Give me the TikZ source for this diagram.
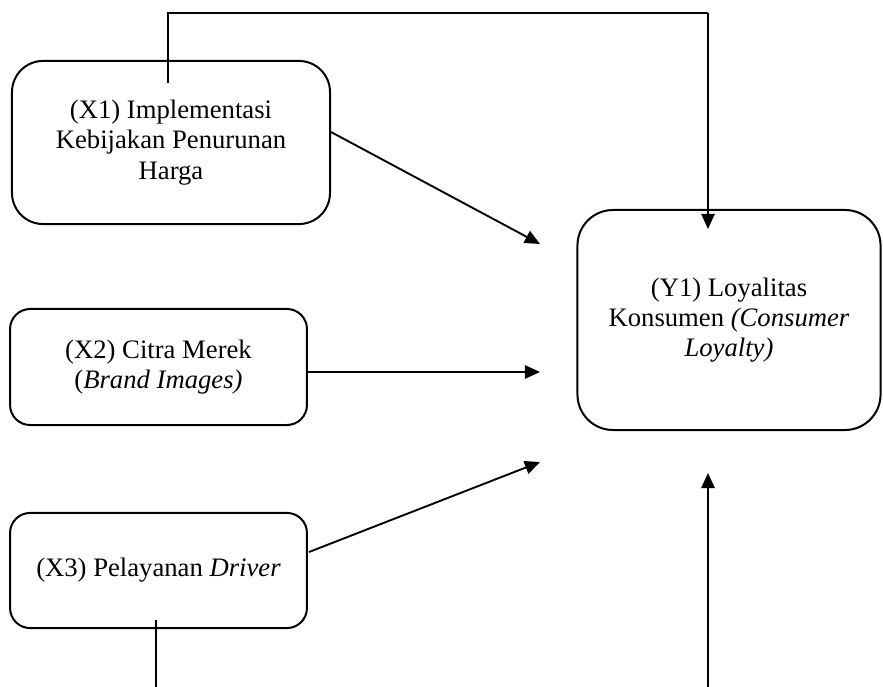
\documentclass[tikz,border=0pt]{standalone}
\usepackage{fontspec}
\setmainfont{Liberation Serif}
\usetikzlibrary{arrows.meta}
\begin{document}
\begin{tikzpicture}[x=0.45pt,y=-0.45pt,
  box/.style={draw,line width=0.9pt,align=center,inner sep=0pt,
    font=\fontsize{12}{13.6}\selectfont},
  arr/.style={line width=0.85pt,-{Triangle[length=6.8pt,width=6pt]}},
  thin/.style={line width=0.6pt}]
\useasboundingbox (0,0) rectangle (883,687);
\node[box,rounded corners=14pt,minimum width=143.1pt,minimum height=73.4pt] (x1) at (171,142.5)
  {(X1) Implementasi\\Kebijakan Penurunan\\Harga};
\node[box,rounded corners=9pt,minimum width=133.6pt,minimum height=52.2pt] (x2) at (158.5,367)
  {(X2) Citra Merek\\(\textit{Brand Images)}};
\node[box,rounded corners=9pt,minimum width=133.6pt,minimum height=51.8pt] (x3) at (158.5,570.5)
  {(X3) Pelayanan \textit{Driver}};
\node[box,rounded corners=16pt,minimum width=136.4pt,minimum height=99pt] (y1) at (729,320)
  {(Y1) Loyalitas\\Konsumen \textit{(Consumer}\\\textit{Loyalty)}};
% free ends
\coordinate (x1s) at (168,83);
\coordinate (topL) at (168,13);
\coordinate (topR) at (708,13);
\coordinate (y1t) at (708,229);
\coordinate (x1e) at (331,132);
\coordinate (t1) at (540,244);
\coordinate (x2e) at (307,372);
\coordinate (t2) at (540,372);
\coordinate (x3e) at (309,552);
\coordinate (t3) at (540,462);
\coordinate (x3b) at (156,620);
\coordinate (x3bb) at (156,687);
\coordinate (bb) at (708,687);
\coordinate (bt) at (708,473);
% connectors
\draw[thin] (x1s) -- (topL) -- (topR);
\draw[arr] (topR) -- (y1t);
\draw[arr] (x1e) -- (t1);
\draw[arr] (x2e) -- (t2);
\draw[arr] (x3e) -- (t3);
\draw[thin] (x3b) -- (x3bb);
\draw[arr] (bb) -- (bt);
\end{tikzpicture}
\end{document}
